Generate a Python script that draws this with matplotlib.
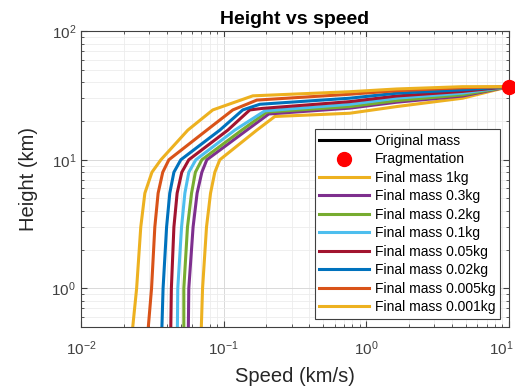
import numpy as np
import matplotlib
matplotlib.use("Agg")
import matplotlib.pyplot as plt
from matplotlib.ticker import LogLocator, NullFormatter
from matplotlib.transforms import ScaledTranslation

plt.rcParams["font.family"] = ["Liberation Sans", "DejaVu Sans"]
plt.rcParams["mathtext.fontset"] = "custom"
plt.rcParams["mathtext.rm"] = "Liberation Sans"
plt.rcParams["mathtext.default"] = "regular"

# === Data ===

labels = ["Final mass 1kg", "Final mass 0.3kg", "Final mass 0.2kg", "Final mass 0.1kg",
          "Final mass 0.05kg", "Final mass 0.02kg", "Final mass 0.005kg", "Final mass 0.001kg"]

x_ticks = [0.01, 0.1, 1, 10]
x_tick_labels = ["$10^{-2}$", "$10^{-1}$", "$10^{0}$", "$10^{1}$"]

# speed (km/s) and height (km) for each final mass
speed_1kg = [0.0699, 0.0713, 0.0760, 0.0811, 0.0869, 0.0942, 0.1712, 0.2288, 0.767, 1.63, 4.75, 10.0]
height_1kg = [0.5, 1, 3, 5.5, 8, 10, 17, 21.7, 23.0, 25.9, 30.1, 37]

speed_03kg = [0.0567, 0.0571, 0.0612, 0.0653, 0.0705, 0.0764, 0.1457, 0.2077, 0.767, 1.63, 4.75, 10.0]
height_03kg = [0.5, 1, 3, 5.5, 8, 10, 17, 22.7, 25.2, 28.0, 31.3, 37]

speed_02kg = [0.0527, 0.0527, 0.0559, 0.0597, 0.0635, 0.0705, 0.1343, 0.2011, 0.767, 1.63, 4.75, 10.0]
height_02kg = [0.5, 1, 3, 5.5, 8, 10, 17, 23.5, 25.9, 28.8, 32.0, 37]

speed_01kg = [0.0475, 0.0478, 0.0508, 0.0536, 0.0571, 0.0640, 0.1200, 0.1948, 0.767, 1.63, 4.75, 10.0]
height_01kg = [0.5, 1, 3, 5.5, 8, 10, 17, 24.0, 27.0, 30.1, 33.0, 37]

speed_005kg = [0.0427, 0.0431, 0.0449, 0.0473, 0.0510, 0.0571, 0.1072, 0.1529, 0.1886, 0.767, 1.63, 4.75, 10.0]
height_005kg = [0.5, 1, 3, 5.5, 8, 10, 17, 24.4, 25.1, 28.3, 31.3, 34.0, 37]

speed_002kg = [0.0370, 0.0377, 0.0399, 0.0420, 0.0449, 0.0502, 0.0942, 0.1365, 0.1796, 0.767, 1.63, 4.75, 10.0]
height_002kg = [0.5, 1, 3, 5.5, 8, 10, 17, 24.4, 27.0, 30.1, 32.9, 35.0, 37]

speed_0005kg = [0.0297, 0.0313, 0.0330, 0.0348, 0.0375, 0.0414, 0.0764, 0.1162, 0.1712, 0.767, 1.63, 4.75, 10.0]
height_0005kg = [0.5, 1, 3, 5.5, 8, 10, 17, 24.4, 29.1, 32.3, 34.4, 36.3, 37]

speed_0001kg = [0.0231, 0.0246, 0.0263, 0.0281, 0.0315, 0.0364, 0.0562, 0.0841, 0.1605, 0.767, 1.63, 4.75, 10.0]
height_0001kg = [0.5, 1, 3, 5.5, 8, 10, 17, 24.4, 31.4, 33.8, 35.5, 37.0, 37]

# original mass (before fragmentation) lies beyond the plotted speed range
speed_orig = [14.0, 12.0, 10.0]
height_orig = [100, 60, 37]
frag_speed = [10.0]
frag_height = [37]

speeds = [speed_1kg, speed_03kg, speed_02kg, speed_01kg,
          speed_005kg, speed_002kg, speed_0005kg, speed_0001kg]
heights = [height_1kg, height_03kg, height_02kg, height_01kg,
           height_005kg, height_002kg, height_0005kg, height_0001kg]

# MATLAB default colour order, continuing after the first two plot calls
colors = ["#EDB120", "#7E2F8E", "#77AC30", "#4DBEEE",
          "#A2142F", "#0072BD", "#D95319", "#EDB120"]

# === Plot ===

fig = plt.figure(figsize=(5.15, 3.89), dpi=100)
ax = fig.add_axes([0.157, 0.159, 0.831, 0.761])

ax.plot(speed_orig, height_orig, color="black", lw=2.2, label="Original mass")
ax.plot(frag_speed, frag_height, "o", color="red", ms=10, clip_on=False,
        label="Fragmentation", zorder=5)
for s, h, c, lab in zip(speeds, heights, colors, labels):
    ax.plot(s, h, color=c, lw=2.2, label=lab)

ax.set_xscale("log")
ax.set_yscale("log")
ax.set_xlim(0.01, 10)
ax.set_ylim(0.5, 100)

ax.set_xticks(x_ticks, labels=x_tick_labels)
ax.xaxis.set_minor_locator(LogLocator(base=10, subs=np.arange(2, 10)))
ax.yaxis.set_minor_locator(LogLocator(base=10, subs=np.arange(2, 10)))
ax.xaxis.set_minor_formatter(NullFormatter())
ax.yaxis.set_minor_formatter(NullFormatter())

ax.grid(True, which="major", color="#d9d9d9", lw=0.7)
ax.grid(True, which="minor", color="#ececec", lw=0.6)
ax.set_axisbelow(True)

ax.tick_params(which="both", direction="in", top=True, right=True,
               colors="#404040", labelsize=11)
ax.tick_params(which="major", length=4)
ax.tick_params(which="minor", length=2)
ax.tick_params(axis="x", pad=9)
for sp in ax.spines.values():
    sp.set_color("#404040")
    sp.set_linewidth(0.8)

# keep the last speed label inside the figure, as in the original
last = ax.get_xticklabels()[-1]
last.set_transform(last.get_transform() + ScaledTranslation(-8 / 100, 0, fig.dpi_scale_trans))

ax.set_title("Height vs speed", fontsize=14, fontweight="bold", pad=5)
ax.set_xlabel("Speed (km/s)", fontsize=14.5, color="#262626", labelpad=6)
ax.set_ylabel("Height (km)", fontsize=14.5, color="#262626", labelpad=10)

leg = ax.legend(loc="lower right", fontsize=10, handlelength=3.6,
                handletextpad=0.4, labelspacing=0.32, borderpad=0.35,
                fancybox=False, framealpha=1, edgecolor="#404040",
                borderaxespad=0.6)
leg.get_frame().set_linewidth(0.8)

fig.savefig("out.png", dpi=100)
